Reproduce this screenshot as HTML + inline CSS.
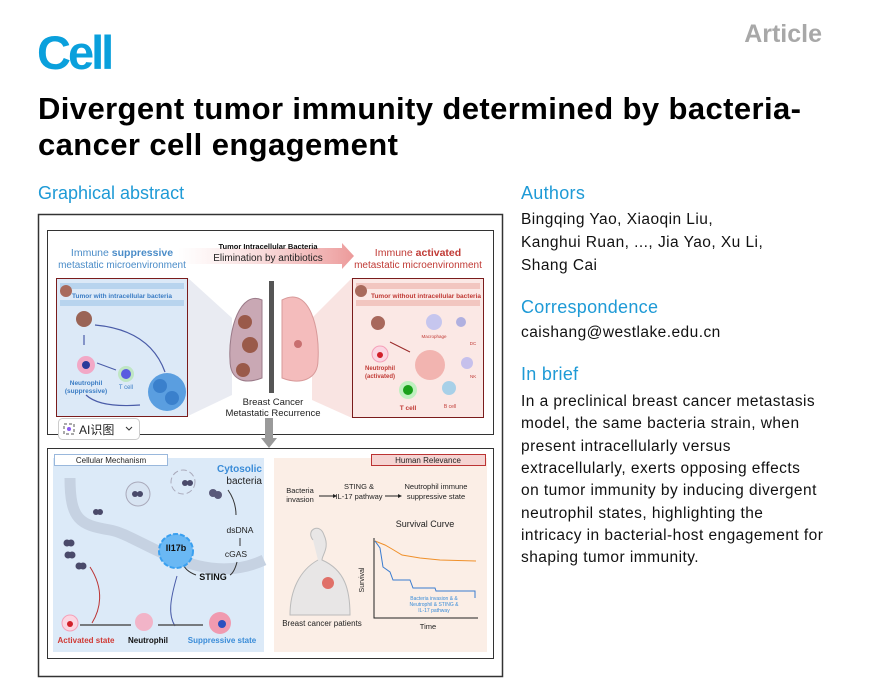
<!DOCTYPE html>
<html><head><meta charset="utf-8">
<style>
html,body{margin:0;padding:0;background:#fff;width:870px;height:681px;overflow:hidden}
svg{display:block}
text{font-family:"Liberation Sans","Noto Sans CJK SC",sans-serif}
</style></head><body>
<svg width="870" height="681" viewBox="0 0 870 681" xmlns="http://www.w3.org/2000/svg">
<defs>
<linearGradient id="ar" x1="0" x2="1"><stop offset="0" stop-color="#f6c8c8" stop-opacity="0"/><stop offset="1" stop-color="#ec9a9a"/></linearGradient>
</defs>
<!-- header -->
<text x="37" y="69" font-size="47" font-weight="bold" fill="#0aa0dc" letter-spacing="-3">Cell</text>
<text x="822" y="42" font-size="25" font-weight="bold" fill="#a8a8a8" text-anchor="end">Article</text>
<text x="38" y="119" font-size="31" font-weight="bold" fill="#000" letter-spacing="0.4">Divergent tumor immunity determined by bacteria-</text>
<text x="38" y="155" font-size="31" font-weight="bold" fill="#000" letter-spacing="0.4">cancer cell engagement</text>
<text x="38" y="199" font-size="18" fill="#1e9ad6">Graphical abstract</text>
<!-- right column -->
<g font-size="15.5" fill="#111" letter-spacing="0.45">
<text x="521" y="199" font-size="18" fill="#1e9ad6" letter-spacing="0.3">Authors</text>
<text x="521" y="224">Bingqing Yao, Xiaoqin Liu,</text>
<text x="521" y="247">Kanghui Ruan, ..., Jia Yao, Xu Li,</text>
<text x="521" y="270">Shang Cai</text>
<text x="521" y="313" font-size="18" fill="#1e9ad6" letter-spacing="0.3">Correspondence</text>
<text x="521" y="337">caishang@westlake.edu.cn</text>
<text x="521" y="380" font-size="18" fill="#1e9ad6" letter-spacing="0.3">In brief</text>
<text x="521" y="406">In a preclinical breast cancer metastasis</text>
<text x="521" y="428">model, the same bacteria strain, when</text>
<text x="521" y="451">present intracellularly versus</text>
<text x="521" y="473">extracellularly, exerts opposing effects</text>
<text x="521" y="495">on tumor immunity by inducing divergent</text>
<text x="521" y="518">neutrophil states, highlighting the</text>
<text x="521" y="540">intricacy in bacterial-host engagement for</text>
<text x="521" y="562">shaping tumor immunity.</text>
</g>
<!-- abstract box -->
<rect x="38.5" y="214.5" width="464" height="462" fill="#fff" stroke="#333" stroke-width="1.5"/>
<rect x="47.5" y="230.5" width="446" height="204" fill="#fff" stroke="#333"/>
<!-- top panel -->
<text x="122" y="256" font-size="10.5" fill="#4a8cc8" text-anchor="middle">Immune <tspan font-weight="bold">suppressive</tspan></text>
<text x="122" y="268" font-size="10" fill="#4a8cc8" text-anchor="middle">metastatic microenvironment</text>
<polygon points="178,248 342,248 342,243 354,256 342,269 342,264 178,264" fill="url(#ar)"/>
<text x="268" y="249" font-size="7.5" font-weight="bold" text-anchor="middle" fill="#111">Tumor Intracellular Bacteria</text>
<text x="268" y="261" font-size="10" text-anchor="middle" fill="#222">Elimination by antibiotics</text>
<text x="418" y="256" font-size="10.5" fill="#c03a35" text-anchor="middle">Immune <tspan font-weight="bold">activated</tspan></text>
<text x="418" y="268" font-size="10" fill="#c03a35" text-anchor="middle">metastatic microenvironment</text>
<polygon points="188,278 232,318 232,395 188,416" fill="#dfe3ec" opacity="0.7"/>
<polygon points="352,278 312,318 312,400 352,418" fill="#f6d8d6" opacity="0.7"/>
<!-- left box -->
<rect x="56.5" y="278.5" width="131" height="138" fill="#dce9f7" stroke="#7a1c1c"/>
<rect x="60" y="283" width="124" height="6" fill="#b8d4ee"/><rect x="60" y="300" width="124" height="6" fill="#b8d4ee"/>
<text x="122" y="298" font-size="6.5" font-weight="bold" fill="#3a7cc4" text-anchor="middle">Tumor with intracellular bacteria</text>
<circle cx="66" cy="291" r="6" fill="#a86a5c"/>
<circle cx="84" cy="319" r="8" fill="#9a6456"/>
<path d="M84 335 v10" stroke="#4a5ca8" stroke-width="1.2"/>
<path d="M95 325 Q150 330 165 372" stroke="#4a5ca8" fill="none" stroke-width="1.2"/>
<circle cx="86" cy="365" r="9" fill="#f2a8c6"/><circle cx="86" cy="365" r="4" fill="#2a3a9a"/>
<text x="86" y="385" font-size="6.5" font-weight="bold" fill="#3a7cc4" text-anchor="middle">Neutrophil</text>
<text x="86" y="393" font-size="6.5" font-weight="bold" fill="#3a7cc4" text-anchor="middle">(suppressive)</text>
<path d="M97 363 L116 370" stroke="#4a5ca8" stroke-width="1"/>
<circle cx="126" cy="374" r="8" fill="#bfe6c4"/><circle cx="126" cy="374" r="5" fill="#5a5ae0"/>
<text x="126" y="389" font-size="6" fill="#3a7cc4" text-anchor="middle">T cell</text>
<path d="M86 395 Q100 408 140 405" stroke="#4a5ca8" fill="none" stroke-width="1.2"/>
<circle cx="167" cy="392" r="19" fill="#5a9ee0"/><circle cx="160" cy="386" r="7" fill="#3a80cc"/><circle cx="172" cy="398" r="7" fill="#3a80cc"/>
<!-- lungs -->
<rect x="269" y="281" width="5" height="112" fill="#555"/>
<path d="M262 300 C240 290 228 330 230 360 C230 380 244 385 262 378 Z" fill="#c9a8b4" stroke="#9a7a88"/>
<path d="M282 300 C310 285 320 330 318 360 C318 380 300 385 282 378 Z" fill="#f4bcbc" stroke="#d89a9a"/>
<circle cx="245" cy="322" r="7" fill="#9a5a4a"/><circle cx="250" cy="345" r="8" fill="#9a5a4a"/><circle cx="243" cy="370" r="7" fill="#9a5a4a"/><circle cx="298" cy="344" r="4" fill="#c87070"/>
<text x="273" y="405" font-size="9.5" fill="#222" text-anchor="middle">Breast Cancer</text>
<text x="273" y="416" font-size="9.5" fill="#222" text-anchor="middle">Metastatic Recurrence</text>
<rect x="265" y="418" width="8" height="20" fill="#9a9a9a"/><polygon points="261,438 277,438 269,448" fill="#9a9a9a"/>
<!-- right box -->
<rect x="352.5" y="278.5" width="131" height="139" fill="#fbe8e5" stroke="#7a1c1c"/>
<rect x="356" y="283" width="124" height="6" fill="#f2c6c0"/><rect x="356" y="300" width="124" height="6" fill="#f2c6c0"/>
<text x="426" y="298" font-size="6.5" font-weight="bold" fill="#c03a35" text-anchor="middle">Tumor without intracellular bacteria</text>
<circle cx="361" cy="291" r="6" fill="#a86a5c"/><circle cx="378" cy="323" r="7" fill="#a8685c"/>
<circle cx="434" cy="322" r="8" fill="#c6c6ee"/><circle cx="461" cy="322" r="5" fill="#b0b0e0"/>
<text x="434" y="338" font-size="4.5" fill="#c03a35" text-anchor="middle">Macrophage</text>
<text x="473" y="345" font-size="4.5" fill="#c03a35" text-anchor="middle">DC</text>
<path d="M390 342 L410 352" stroke="#9a2a2a" stroke-width="1"/>
<circle cx="380" cy="354" r="8" fill="#fbd6e2" stroke="#f5a0b8"/><circle cx="380" cy="355" r="3" fill="#d0202a"/>
<text x="380" y="370" font-size="6" font-weight="bold" fill="#c03a35" text-anchor="middle">Neutrophil</text>
<text x="380" y="378" font-size="6" font-weight="bold" fill="#c03a35" text-anchor="middle">(activated)</text>
<circle cx="430" cy="365" r="15" fill="#f2b4b0"/>
<circle cx="467" cy="363" r="6" fill="#c6c0ec"/><text x="470" y="378" font-size="4.5" fill="#c03a35">NK</text>
<circle cx="408" cy="390" r="9" fill="#bff0bf"/><circle cx="408" cy="390" r="5" fill="#1aa01a"/>
<text x="408" y="410" font-size="6.5" font-weight="bold" fill="#c03a35" text-anchor="middle">T cell</text>
<circle cx="449" cy="388" r="7" fill="#a8d0e8"/><text x="450" y="408" font-size="5" fill="#c03a35" text-anchor="middle">B cell</text>
<!-- AI button -->
<rect x="58.5" y="418.5" width="81" height="21" rx="4" fill="#fff" stroke="#ccc"/>
<rect x="64" y="424" width="10" height="10" fill="none" stroke="#555" stroke-dasharray="3 2"/>
<circle cx="69" cy="429" r="2" fill="#8a5af0"/>
<text x="79" y="434" font-size="12" fill="#222">AI识图</text>
<path d="M126 427 l3 3 l3 -3" stroke="#333" fill="none"/>
<!-- bottom panel -->
<rect x="47.5" y="448.5" width="446" height="210" fill="#fff" stroke="#333"/>
<rect x="53" y="458" width="211" height="194" fill="#dceaf8"/>
<rect x="54.5" y="454.5" width="113" height="11" fill="#fff" stroke="#9ab8dc"/>
<text x="111" y="463" font-size="8" fill="#222" text-anchor="middle">Cellular Mechanism</text>
<path d="M70 478 C70 520 80 525 110 530 C140 535 200 590 264 560" stroke="#c6d2e2" stroke-width="11" fill="none"/>
<circle cx="138" cy="494" r="12" fill="#d8e4f2" stroke="#aab"/><circle cx="135" cy="494" r="3" fill="#4a4a6a"/><circle cx="140" cy="494" r="3" fill="#4a4a6a"/>
<circle cx="183" cy="482" r="12" fill="none" stroke="#aab" stroke-dasharray="6 3"/><circle cx="185" cy="483" r="3" fill="#4a4a6a"/><circle cx="190" cy="483" r="3" fill="#4a4a6a"/>
<circle cx="213" cy="493" r="4" fill="#5a5a7a"/><circle cx="218" cy="495" r="4" fill="#5a5a7a"/>
<circle cx="96" cy="512" r="3" fill="#4a4a6a"/><circle cx="100" cy="512" r="3" fill="#4a4a6a"/>
<circle cx="67" cy="543" r="3.5" fill="#4a4a6a"/><circle cx="71" cy="543" r="3.5" fill="#4a4a6a"/>
<circle cx="68" cy="555" r="3.5" fill="#4a4a6a"/><circle cx="72" cy="555" r="3.5" fill="#4a4a6a"/>
<circle cx="79" cy="566" r="3.5" fill="#4a4a6a"/><circle cx="83" cy="566" r="3.5" fill="#4a4a6a"/>
<text x="262" y="472" font-size="10" font-weight="bold" fill="#3a8cd8" text-anchor="end">Cytosolic</text>
<text x="262" y="484" font-size="10" fill="#222" text-anchor="end">bacteria</text>
<text x="240" y="533" font-size="8.5" fill="#222" text-anchor="middle">dsDNA</text>
<text x="236" y="557" font-size="8.5" fill="#222" text-anchor="middle">cGAS</text>
<text x="213" y="580" font-size="9" font-weight="bold" fill="#111" text-anchor="middle">STING</text>
<path d="M228 490 C235 500 236 510 236 515 M240 538 v8 M237 562 C235 570 232 574 230 575" stroke="#333" fill="none"/>
<path d="M196 575 C188 572 184 568 183 563" stroke="#333" fill="none"/>
<circle cx="176" cy="551" r="17" fill="#6ab8f4" stroke="#3aa0f0" stroke-dasharray="5 2" stroke-width="2"/>
<text x="176" y="551" font-size="9" font-weight="bold" fill="#111" text-anchor="middle">Il17b</text>
<path d="M177 576 C170 600 168 615 175 626" stroke="#4a5ca8" fill="none"/>
<path d="M90 567 C105 590 100 610 92 623" stroke="#b33" fill="none"/>
<path d="M131 625 H80 M158 625 H203" stroke="#555" stroke-width="1.5"/>
<circle cx="70" cy="623" r="8" fill="#fbd6e2" stroke="#f5a0b8"/><circle cx="70" cy="624" r="3" fill="#d0202a"/>
<circle cx="144" cy="622" r="9" fill="#f2b4c8"/>
<circle cx="220" cy="623" r="11" fill="#f09ab0"/><circle cx="222" cy="624" r="4" fill="#2a50c0"/>
<text x="86" y="643" font-size="8" font-weight="bold" fill="#d03a35" text-anchor="middle">Activated state</text>
<text x="148" y="643" font-size="8" font-weight="bold" fill="#111" text-anchor="middle">Neutrophil</text>
<text x="222" y="643" font-size="8" font-weight="bold" fill="#3a8cd8" text-anchor="middle">Suppressive state</text>
<!-- right human relevance -->
<rect x="274" y="458" width="213" height="194" fill="#fbeee6"/>
<rect x="371.5" y="454.5" width="114" height="11" fill="#f5d4d2" stroke="#b33"/>
<text x="428" y="463" font-size="8" fill="#222" text-anchor="middle">Human Relevance</text>
<g font-size="7.5" fill="#222" text-anchor="middle">
<text x="300" y="493">Bacteria</text><text x="300" y="502">invasion</text>
<text x="359" y="489">STING &amp;</text><text x="359" y="499">IL-17 pathway</text>
<text x="436" y="489">Neutrophil immune</text><text x="436" y="499">suppressive state</text>
</g>
<path d="M319 496 h14 M385 496 h13" stroke="#222"/><polygon points="333,494 337,496 333,498" fill="#222"/><polygon points="398,494 402,496 398,498" fill="#222"/>
<text x="425" y="527" font-size="9" fill="#222" text-anchor="middle">Survival Curve</text>
<path d="M313 540 C305 530 320 522 324 535 C330 548 322 555 322 560 C345 570 350 590 350 615 L290 615 C290 590 300 570 318 560" fill="#e8e6e6" stroke="#bbb"/>
<circle cx="328" cy="583" r="6" fill="#e07068"/>
<text x="322" y="626" font-size="8" fill="#222" text-anchor="middle">Breast cancer patients</text>
<path d="M374 538 V618 H478" stroke="#222" fill="none"/>
<text x="364" y="580" font-size="7" fill="#222" text-anchor="middle" transform="rotate(-90 364 580)">Survival</text>
<text x="428" y="629" font-size="7.5" fill="#222" text-anchor="middle">Time</text>
<path d="M375 541 L385 545 L392 549 L402 555 L420 558 L440 560 L476 561" stroke="#f0902a" fill="none"/>
<path d="M375 541 L380 548 L383 567 L390 572 L393 580 L410 580 L413 588 L435 588 L436 591 L475 591 V598" stroke="#3a7cd0" fill="none"/>
<text x="434" y="600" font-size="5" fill="#3a8cd8" text-anchor="middle">Bacteria invasion &amp; &amp;</text>
<text x="434" y="606" font-size="5" fill="#3a8cd8" text-anchor="middle">Neutrophil &amp; STING &amp;</text>
<text x="434" y="612" font-size="5" fill="#3a8cd8" text-anchor="middle">IL-17 pathway</text>
</svg>
</body></html>
